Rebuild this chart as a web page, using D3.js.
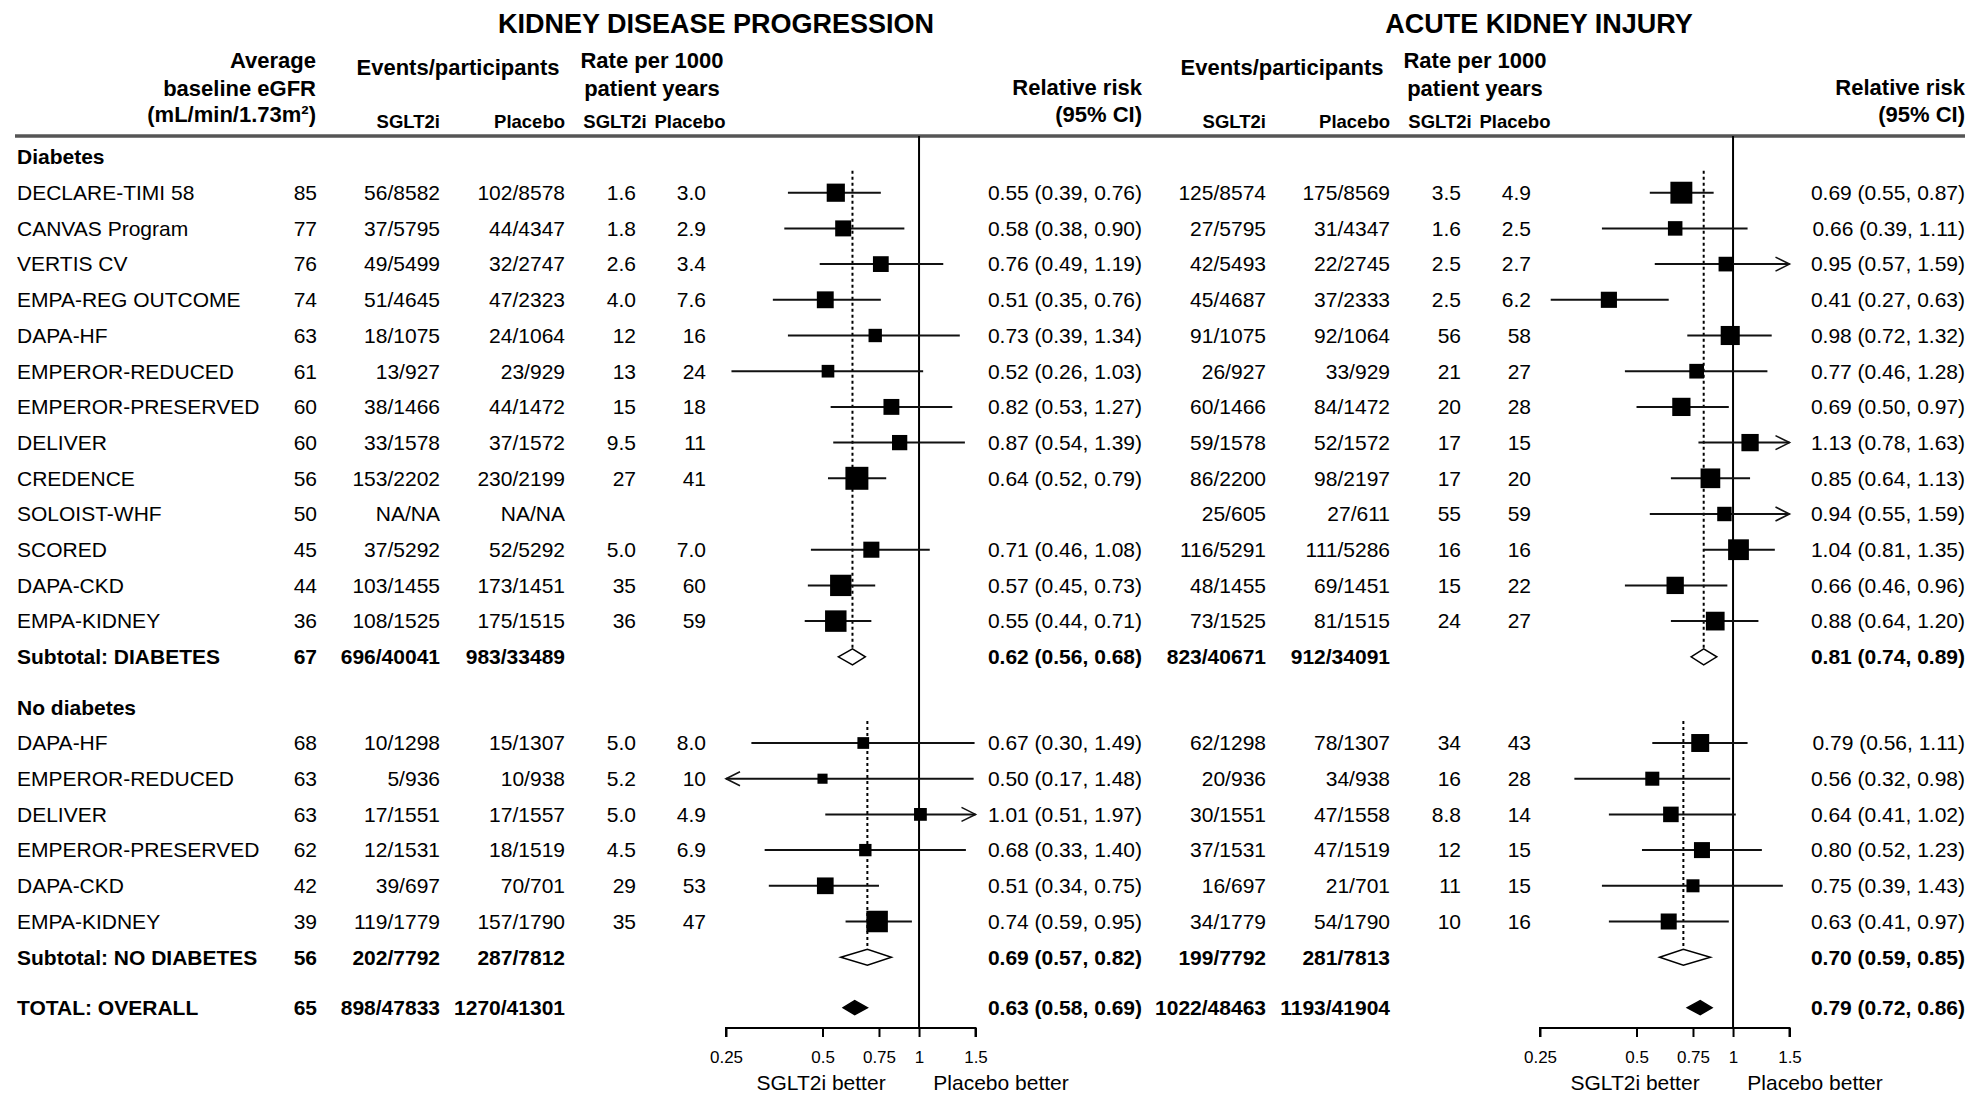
<!DOCTYPE html>
<html><head><meta charset="utf-8">
<script src="https://cdn.jsdelivr.net/npm/d3@7"></script>
<style>
html,body{margin:0;padding:0;background:#fff;}
svg text{font-family:"Liberation Sans",Arial,sans-serif;fill:#000;}
</style></head>
<body><svg id="chart" width="1973" height="1095"></svg>
<script>
// ---------------- DATA ----------------
const rowLabels = ["Diabetes","DECLARE-TIMI 58","CANVAS Program","VERTIS CV","EMPA-REG OUTCOME","DAPA-HF","EMPEROR-REDUCED","EMPEROR-PRESERVED","DELIVER","CREDENCE","SOLOIST-WHF","SCORED","DAPA-CKD","EMPA-KIDNEY","Subtotal: DIABETES",
  "No diabetes","DAPA-HF","EMPEROR-REDUCED","DELIVER","EMPEROR-PRESERVED","DAPA-CKD","EMPA-KIDNEY","Subtotal: NO DIABETES","TOTAL: OVERALL"];
const rowTypes = ["header","trial","trial","trial","trial","trial","trial","trial","trial","trial","trial","trial","trial","trial","subtotal",
  "header","trial","trial","trial","trial","trial","trial","subtotal","total"];
const baselineEGFR = [null,85,77,76,74,63,61,60,60,56,50,45,44,36,67, null,68,63,63,62,42,39,56,65];

// Kidney disease progression
const kdEventsSGLT2i = [null,"56/8582","37/5795","49/5499","51/4645","18/1075","13/927","38/1466","33/1578","153/2202","NA/NA","37/5292","103/1455","108/1525","696/40041",
  null,"10/1298","5/936","17/1551","12/1531","39/697","119/1779","202/7792","898/47833"];
const kdEventsPlacebo = [null,"102/8578","44/4347","32/2747","47/2323","24/1064","23/929","44/1472","37/1572","230/2199","NA/NA","52/5292","173/1451","175/1515","983/33489",
  null,"15/1307","10/938","17/1557","18/1519","70/701","157/1790","287/7812","1270/41301"];
const kdRateSGLT2i = [null,"1.6","1.8","2.6","4.0","12","13","15","9.5","27",null,"5.0","35","36",null, null,"5.0","5.2","5.0","4.5","29","35",null,null];
const kdRatePlacebo = [null,"3.0","2.9","3.4","7.6","16","24","18","11","41",null,"7.0","60","59",null, null,"8.0","10","4.9","6.9","53","47",null,null];
const kdRR    = [null,0.55,0.58,0.76,0.51,0.73,0.52,0.82,0.87,0.64,null,0.71,0.57,0.55,0.62, null,0.67,0.50,1.01,0.68,0.51,0.74,0.69,0.63];
const kdLower = [null,0.39,0.38,0.49,0.35,0.39,0.26,0.53,0.54,0.52,null,0.46,0.45,0.44,0.56, null,0.30,0.17,0.51,0.33,0.34,0.59,0.57,0.58];
const kdUpper = [null,0.76,0.90,1.19,0.76,1.34,1.03,1.27,1.39,0.79,null,1.08,0.73,0.71,0.68, null,1.49,1.48,1.97,1.40,0.75,0.95,0.82,0.69];

// Acute kidney injury
const akiEventsSGLT2i = [null,"125/8574","27/5795","42/5493","45/4687","91/1075","26/927","60/1466","59/1578","86/2200","25/605","116/5291","48/1455","73/1525","823/40671",
  null,"62/1298","20/936","30/1551","37/1531","16/697","34/1779","199/7792","1022/48463"];
const akiEventsPlacebo = [null,"175/8569","31/4347","22/2745","37/2333","92/1064","33/929","84/1472","52/1572","98/2197","27/611","111/5286","69/1451","81/1515","912/34091",
  null,"78/1307","34/938","47/1558","47/1519","21/701","54/1790","281/7813","1193/41904"];
const akiRateSGLT2i = [null,"3.5","1.6","2.5","2.5","56","21","20","17","17","55","16","15","24",null, null,"34","16","8.8","12","11","10",null,null];
const akiRatePlacebo = [null,"4.9","2.5","2.7","6.2","58","27","28","15","20","59","16","22","27",null, null,"43","28","14","15","15","16",null,null];
const akiRR    = [null,0.69,0.66,0.95,0.41,0.98,0.77,0.69,1.13,0.85,0.94,1.04,0.66,0.88,0.81, null,0.79,0.56,0.64,0.80,0.75,0.63,0.70,0.79];
const akiLower = [null,0.55,0.39,0.57,0.27,0.72,0.46,0.50,0.78,0.64,0.55,0.81,0.46,0.64,0.74, null,0.56,0.32,0.41,0.52,0.39,0.41,0.59,0.72];
const akiUpper = [null,0.87,1.11,1.59,0.63,1.32,1.28,0.97,1.63,1.13,1.59,1.35,0.96,1.20,0.89, null,1.11,0.98,1.02,1.23,1.43,0.97,0.85,0.86];

const tickValues = [0.25,0.5,0.75,1,1.5];
const tickLabels = ["0.25","0.5","0.75","1","1.5"];
const panelTitles = ["KIDNEY DISEASE PROGRESSION","ACUTE KIDNEY INJURY"];
const favourLabels = ["SGLT2i better","Placebo better"];

// ---------------- LAYOUT ----------------
const svg = d3.select("#chart");
const FONT = 21;
const fmt = d3.format(".2f");

// row y positions
const rowStep = 35.7, groupGap = 14.8;
const rowY = [];
rowLabels.forEach((d,i)=>{
  if(i===0) rowY.push(157);
  else rowY.push(rowY[i-1] + rowStep + (rowTypes[i-1]==="subtotal" ? groupGap : 0));
});
const isBold = t => t!=="trial";

const panels = [
  {title: panelTitles[0], titleX: 716, evS: 440, evP: 565, rateS: 636, rateP: 706, rateHS: 615, rateHP: 690, evHX: 458, rateHX: 652, rrX: 1142,
   range: [726, 975.5], ev1: kdEventsSGLT2i, ev2: kdEventsPlacebo, r1: kdRateSGLT2i, r2: kdRatePlacebo, rr: kdRR, lo: kdLower, hi: kdUpper},
  {title: panelTitles[1], titleX: 1539, evS: 1266, evP: 1390, rateS: 1461, rateP: 1531, rateHS: 1440, rateHP: 1515, evHX: 1282, rateHX: 1475, rrX: 1965,
   range: [1540, 1789.5], ev1: akiEventsSGLT2i, ev2: akiEventsPlacebo, r1: akiRateSGLT2i, r2: akiRatePlacebo, rr: akiRR, lo: akiLower, hi: akiUpper}
];

function txt(g, x, y, s, opts={}){
  return g.append("text").attr("x",x).attr("y",y).attr("dy","0.35em")
    .attr("text-anchor",opts.anchor||"start")
    .attr("font-size",opts.size||FONT)
    .attr("font-weight",opts.bold?"bold":"normal")
    .text(s);
}

// header rule
svg.append("line").attr("x1",15).attr("x2",1965).attr("y1",136).attr("y2",136)
  .attr("stroke","#555").attr("stroke-width",3.5);

// left columns headers
const HS = 22;
txt(svg,316,60,"Average",{anchor:"end",bold:true,size:HS});
txt(svg,316,88,"baseline eGFR",{anchor:"end",bold:true,size:HS});
const eg = svg.append("text").attr("x",316).attr("y",114).attr("dy","0.35em").attr("text-anchor","end")
  .attr("font-size",HS).attr("font-weight","bold");
eg.append("tspan").text("(mL/min/1.73m²)");

// row labels and eGFR
rowLabels.forEach((lab,i)=>{
  txt(svg,17,rowY[i],lab,{bold:isBold(rowTypes[i])});
  if(baselineEGFR[i]!=null) txt(svg,317,rowY[i],baselineEGFR[i],{anchor:"end",bold:isBold(rowTypes[i])});
});

panels.forEach(p=>{
  const g = svg.append("g");
  txt(g,p.titleX,24,p.title,{anchor:"middle",bold:true,size:27});
  txt(g,p.evHX,67,"Events/participants",{anchor:"middle",bold:true,size:HS});
  txt(g,p.rateHX,60,"Rate per 1000",{anchor:"middle",bold:true,size:HS});
  txt(g,p.rateHX,88,"patient years",{anchor:"middle",bold:true,size:HS});
  txt(g,p.rrX,87,"Relative risk",{anchor:"end",bold:true,size:HS});
  txt(g,p.rrX,114,"(95% CI)",{anchor:"end",bold:true,size:HS});
  txt(g,p.evS,122,"SGLT2i",{anchor:"end",bold:true,size:18.5});
  txt(g,p.evP,122,"Placebo",{anchor:"end",bold:true,size:18.5});
  txt(g,p.rateHS,122,"SGLT2i",{anchor:"middle",bold:true,size:18.5});
  txt(g,p.rateHP,122,"Placebo",{anchor:"middle",bold:true,size:18.5});

  const x = d3.scaleLog().domain([0.25,1.5]).range(p.range);
  const sizeScale = d3.scaleSqrt().domain([0,1]).range([0,7.5]);
  const axisY = 1028;

  // text columns
  rowLabels.forEach((lab,i)=>{
    const b = isBold(rowTypes[i]);
    if(p.ev1[i]) txt(g,p.evS,rowY[i],p.ev1[i],{anchor:"end",bold:b});
    if(p.ev2[i]) txt(g,p.evP,rowY[i],p.ev2[i],{anchor:"end",bold:b});
    if(p.r1[i]) txt(g,p.rateS,rowY[i],p.r1[i],{anchor:"end"});
    if(p.r2[i]) txt(g,p.rateP,rowY[i],p.r2[i],{anchor:"end"});
    if(p.rr[i]!=null) txt(g,p.rrX,rowY[i],`${fmt(p.rr[i])} (${fmt(p.lo[i])}, ${fmt(p.hi[i])})`,{anchor:"end",bold:b});
  });

  // reference line at 1
  g.append("line").attr("x1",x(1)).attr("x2",x(1)).attr("y1",136).attr("y2",axisY)
    .attr("stroke","#000").attr("stroke-width",2);

  // dotted lines at subgroup estimates
  let start = null;
  rowTypes.forEach((t,i)=>{
    if(t==="header") start = i+1;
    if(t==="subtotal"){
      g.append("line").attr("x1",x(p.rr[i])).attr("x2",x(p.rr[i]))
        .attr("y1",rowY[start]-22).attr("y2",rowY[i]-8)
        .attr("stroke","#000").attr("stroke-width",2).attr("stroke-dasharray","3,3");
    }
  });

  // CI lines, boxes, diamonds
  const [dMin,dMax] = x.domain();
  rowTypes.forEach((t,i)=>{
    if(p.rr[i]==null) return;
    const y = rowY[i];
    if(t==="trial"){
      const l = Math.max(p.lo[i],dMin), h = Math.min(p.hi[i],dMax);
      g.append("line").attr("x1",x(l)).attr("x2",x(h)).attr("y1",y).attr("y2",y)
        .attr("stroke","#111").attr("stroke-width",2);
      if(p.lo[i]<dMin){
        const tx=x(dMin);
        g.append("path").attr("d",`M${tx+14},${y-7}L${tx},${y}L${tx+14},${y+7}`)
          .attr("fill","none").attr("stroke","#111").attr("stroke-width",1.6);
      }
      if(p.hi[i]>dMax){
        const tx=x(dMax);
        g.append("path").attr("d",`M${tx-14},${y-7}L${tx},${y}L${tx-14},${y+7}`)
          .attr("fill","none").attr("stroke","#111").attr("stroke-width",1.6);
      }
      const prec = 3.92/Math.log(p.hi[i]/p.lo[i]);
      const s = sizeScale(prec);
      g.append("rect").attr("x",x(p.rr[i])-s/2).attr("y",y-s/2).attr("width",s).attr("height",s).attr("fill","#000");
    } else {
      const hh = t==="total" ? 7 : 8;
      const xl = x(p.lo[i]), xh = x(p.hi[i]), xc = x(p.rr[i]);
      g.append("path").attr("d",`M${xl},${y}L${xc},${y-hh}L${xh},${y}L${xc},${y+hh}Z`)
        .attr("fill", t==="total" ? "#000" : "#fff").attr("stroke","#000").attr("stroke-width",1.5);
    }
  });

  // axis
  const axis = d3.axisBottom(x).tickValues(tickValues).tickFormat((d,i)=>tickLabels[i]).tickSize(9).tickPadding(14);
  const ag = g.append("g").attr("transform",`translate(0,${axisY})`).call(axis);
  ag.select(".domain").attr("stroke","#000").attr("stroke-width",2).attr("d",`M${p.range[0]},9V0H${p.range[1]}V9`);
  ag.selectAll(".tick line").attr("stroke","#000").attr("stroke-width",2);
  ag.selectAll(".tick text").attr("font-size",17).attr("font-family","'Liberation Sans',Arial,sans-serif").attr("fill","#000");

  txt(g,x(1)-98,1083,favourLabels[0],{anchor:"middle"});
  txt(g,x(1)+82,1083,favourLabels[1],{anchor:"middle"});
});
</script>
</body></html>
